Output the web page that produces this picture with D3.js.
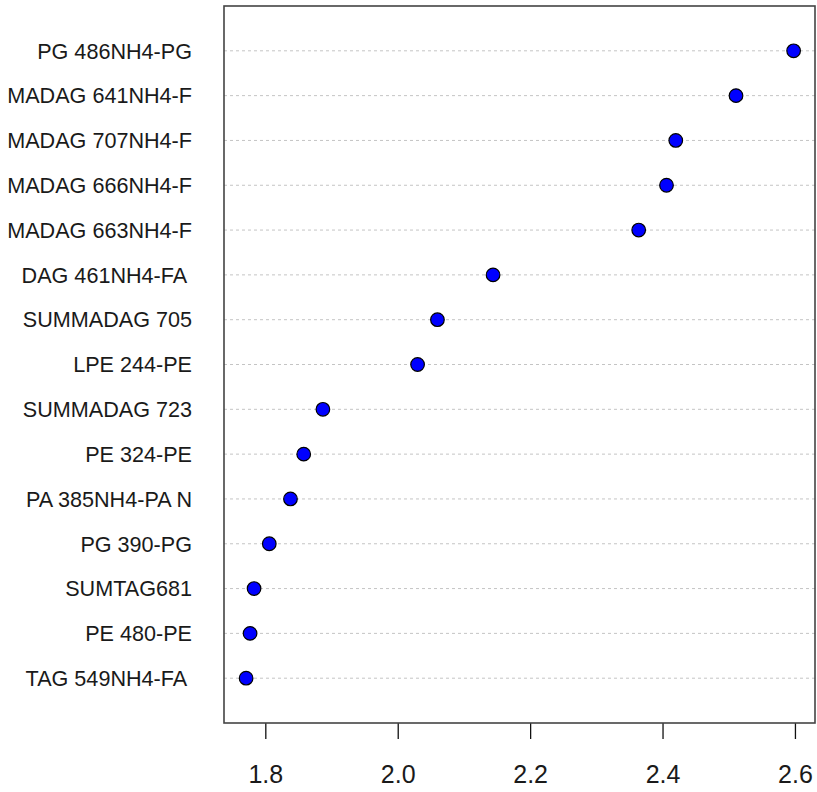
<!DOCTYPE html>
<html>
<head>
<meta charset="utf-8">
<script src="https://cdn.jsdelivr.net/npm/d3@7"></script>
<style>
  html, body { margin: 0; padding: 0; background: #fff; }
  svg { display: block; }
  text { font-family: "Liberation Sans", Arial, sans-serif; fill: #1a1a1a; white-space: pre; }
</style>
</head>
<body>
<svg id="chart" width="817" height="792"></svg>
<script>
// Row labels, top to bottom
const labels = [
  "PG 486NH4-PG",
  "MADAG 641NH4-F",
  "MADAG 707NH4-F",
  "MADAG 666NH4-F",
  "MADAG 663NH4-F",
  "DAG 461NH4-FA ",
  "SUMMADAG 705",
  "LPE 244-PE",
  "SUMMADAG 723",
  "PE 324-PE",
  "PA 385NH4-PA N",
  "PG 390-PG",
  "SUMTAG681",
  "PE 480-PE",
  "TAG 549NH4-FA "
];
const values = [
  2.598, 2.511, 2.420, 2.406, 2.364,
  2.144, 2.060, 2.030, 1.887, 1.858,
  1.838, 1.806, 1.783, 1.777, 1.771
];
const xTicks = [1.8, 2.0, 2.2, 2.4, 2.6];

const svg = d3.select("#chart");
const box = { left: 224, right: 815, top: 6, bottom: 723 };

const x = d3.scaleLinear().domain([1.7376, 2.6303]).range([box.left, box.right]);
// dot rows sit at 1..n, with one row of padding above and below (R dotchart layout)
const n = labels.length;
const y = d3.scaleLinear().domain([0, n + 1]).range([box.bottom, box.top]);
const rowY = i => y(n - i);

// dotted guide lines
svg.append("g")
  .selectAll("line")
  .data(labels)
  .join("line")
  .attr("x1", box.left)
  .attr("x2", box.right)
  .attr("y1", (d, i) => rowY(i))
  .attr("y2", (d, i) => rowY(i))
  .attr("stroke", "#c4c4c4")
  .attr("stroke-width", 1)
  .attr("stroke-dasharray", "3,3");

// row labels
svg.append("g")
  .selectAll("text")
  .data(labels)
  .join("text")
  .attr("x", 192)
  .attr("y", (d, i) => rowY(i))
  .attr("dy", "0.36em")
  .attr("text-anchor", "end")
  .style("font-size", "21.6px")
  .text(d => d);

// points
svg.append("g")
  .selectAll("circle")
  .data(values)
  .join("circle")
  .attr("cx", d => x(d))
  .attr("cy", (d, i) => rowY(i))
  .attr("r", 6.8)
  .attr("fill", "#0000ff")
  .attr("stroke", "#000")
  .attr("stroke-width", 1.2);

// bottom axis
const axis = d3.axisBottom(x)
  .tickValues(xTicks)
  .tickFormat(d3.format(".1f"))
  .tickSize(16)
  .tickPadding(26);
const gAxis = svg.append("g")
  .attr("transform", `translate(0,${box.bottom})`)
  .call(axis);
gAxis.select(".domain").remove();
gAxis.selectAll(".tick line").attr("stroke", "#111").attr("stroke-width", 1.3);
gAxis.selectAll(".tick text")
  .style("font-size", "25px")
  .style("font-family", "'Liberation Sans', Arial, sans-serif")
  .attr("fill", "#1a1a1a");

// plot frame
svg.append("rect")
  .attr("x", box.left)
  .attr("y", box.top)
  .attr("width", box.right - box.left)
  .attr("height", box.bottom - box.top)
  .attr("fill", "none")
  .attr("stroke", "#444")
  .attr("stroke-width", 1.6);
</script>
</body>
</html>
